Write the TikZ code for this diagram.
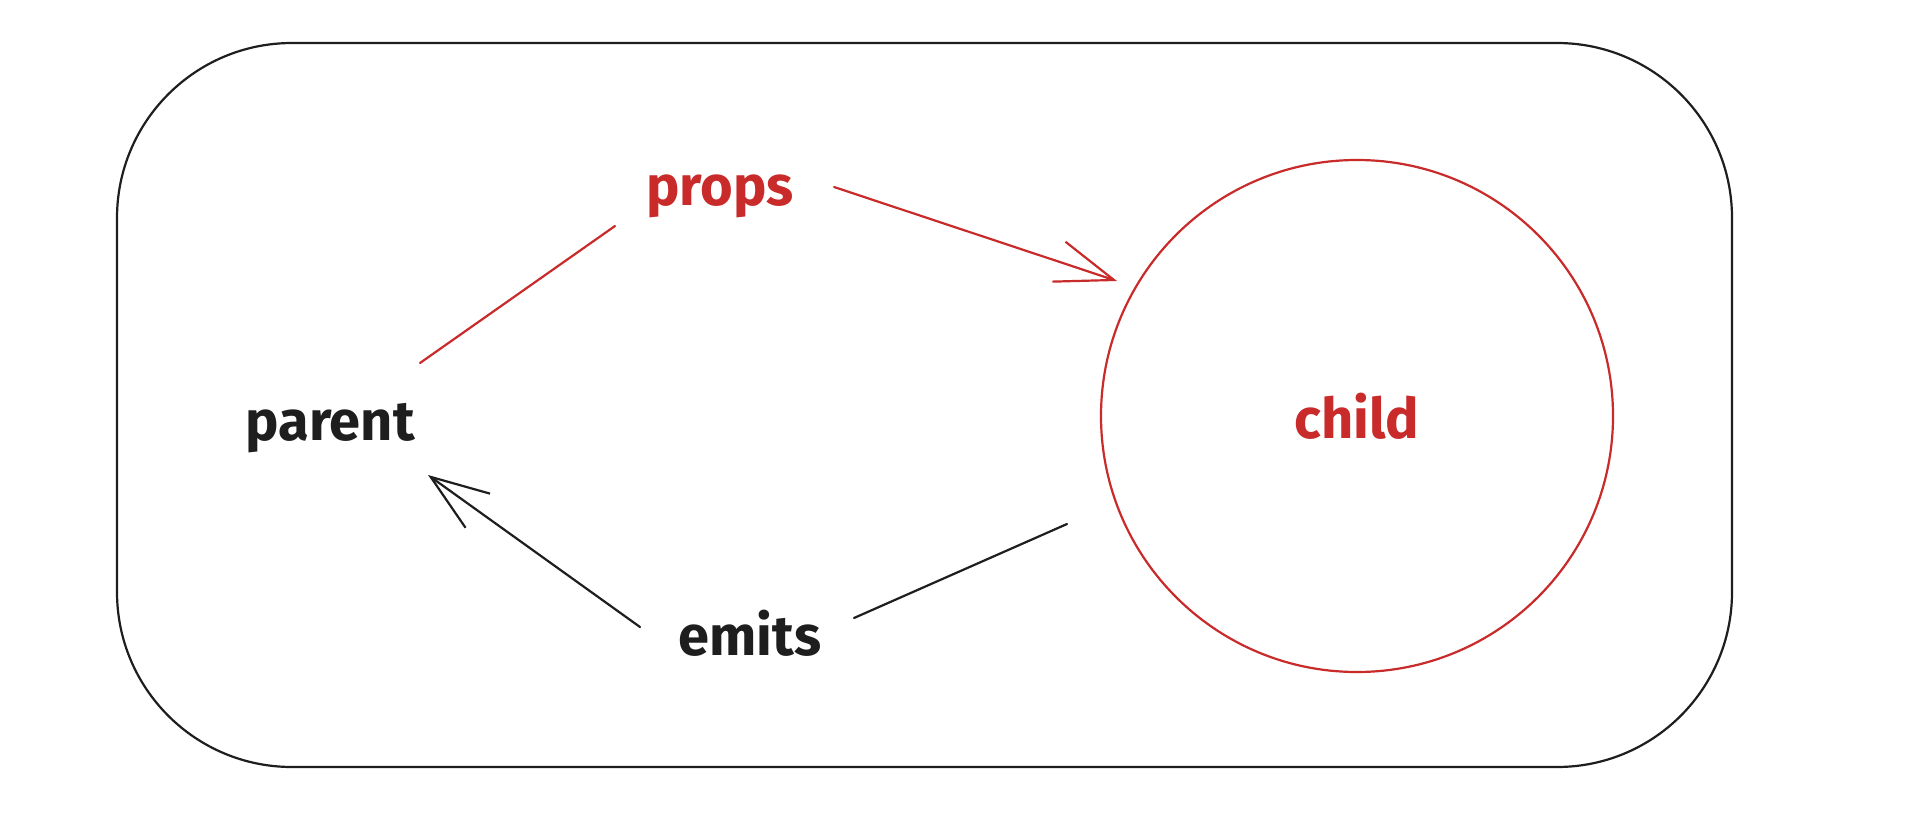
\documentclass[tikz,border=0pt]{standalone}
\usepackage{fontspec}
\setmainfont{Fira Sans}
\usetikzlibrary{arrows.meta}
\definecolor{xred}{HTML}{C92A2A}
\definecolor{xink}{HTML}{1E1E1E}
\tikzset{
  sk/.style={line width=2.2pt, line cap=round, line join=round},
  lbl/.style={font=\fontsize{56}{60}\selectfont\bfseries, inner sep=0pt},
  tipx/.style={-{Straight Barb[length=58pt,width=42pt,line width=2.2pt]}}
}
\begin{document}
\begin{tikzpicture}[x=1pt,y=-1pt]
\useasboundingbox (0,0) rectangle (1918,816);
\fill[white] (0,0) rectangle (1918,816);
% frame
\draw[sk, xink, rounded corners=175pt] (117,43) rectangle (1732,767);
% nodes
\node[sk, draw=xred, circle, minimum size=512pt, inner sep=0pt, text=xred, lbl] (child) at (1357,416) {child};
\node[lbl, text=xink, anchor=base] (parent) at (330,440) {parent};
\node[lbl, text=xred, anchor=base] (props) at (720,205) {props};
\node[lbl, text=xink, anchor=base] (emits) at (750,655) {emits};
% connector ends
\coordinate (pa) at (420,363);
\coordinate (pb) at (615,226);
\coordinate (pc) at (834,187);
\coordinate (pd) at (1117,281);
\coordinate (ea) at (640,627);
\coordinate (eb) at (428,475);
\coordinate (ec) at (854,618);
\coordinate (ed) at (1067,524);
\draw[sk, xred] (pa) -- (pb);
\draw[sk, xred, tipx] (pc) -- (pd);
\draw[sk, xink, tipx] (ea) -- (eb);
\draw[sk, xink] (ec) -- (ed);
\end{tikzpicture}
\end{document}
